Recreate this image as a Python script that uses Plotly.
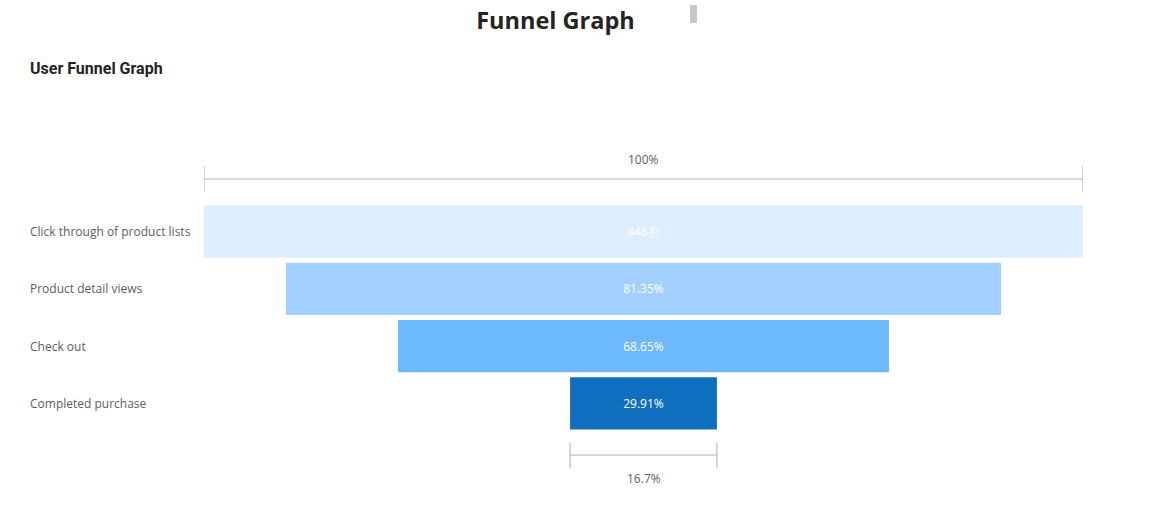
import plotly.graph_objects as go

# ---- data ----
stages = ["Click through of product lists", "Product detail views", "Check out", "Completed purchase"]
values = [446000, 362821, 249077, 74499]
bar_colors = ["#DDEEFF", "#A3D1FF", "#6DB9FF", "#106EBE"]

W, H = 1153, 524
ML, MR, MT, MB = 204, 70, 203, 92
PW = W - ML - MR

# labels: first as thousands (천), others percent of previous
texts = [f"{round(values[0]/1000)}천"] + [
    f"{values[i]/values[i-1]*100:.2f}%" for i in range(1, len(values))
]
bases = [-v / 2 for v in values]

fig = go.Figure()
fig.add_trace(go.Bar(
    y=stages, x=values, base=bases, orientation="h",
    marker=dict(color=bar_colors, line=dict(width=0)),
    text=texts, textposition="inside", insidetextanchor="middle",
    textfont=dict(color="white", size=12, family="Open Sans"),
    hoverinfo="skip", showlegend=False,
))

vmax = values[0]
vmin = values[-1]

def px(pix):
    return (pix - ML) / PW

def py(pix):
    # convert pixel y to paper coordinate
    return (H - MB - pix) / (H - MT - MB)

# category labels on the left, left aligned
for s in stages:
    fig.add_annotation(x=px(28), xref="paper", y=s, yref="y",
                       text=s, showarrow=False, xanchor="left", yanchor="middle",
                       font=dict(size=12, color="#605E5C", family="Open Sans"))

line_col = "#B3B0AD"
# top bracket (100%)
fig.add_shape(type="line", xref="x", yref="paper", x0=-vmax/2, x1=vmax/2, y0=py(179), y1=py(179),
              line=dict(color=line_col, width=1))
for xv in (-vmax/2, vmax/2):
    fig.add_shape(type="line", xref="x", yref="paper", x0=xv, x1=xv, y0=py(166), y1=py(192),
                  line=dict(color=line_col, width=1))
fig.add_annotation(x=0, xref="x", y=py(159), yref="paper", text=f"{values[0]/values[0]*100:.0f}%",
                   showarrow=False, yanchor="middle",
                   font=dict(size=12, color="#605E5C", family="Open Sans"))
# bottom bracket
fig.add_shape(type="line", xref="x", yref="paper", x0=-vmin/2, x1=vmin/2, y0=py(455), y1=py(455),
              line=dict(color=line_col, width=1))
for xv in (-vmin/2, vmin/2):
    fig.add_shape(type="line", xref="x", yref="paper", x0=xv, x1=xv, y0=py(443), y1=py(468),
                  line=dict(color=line_col, width=1))
fig.add_annotation(x=0, xref="x", y=py(478), yref="paper", text=f"{vmin/vmax*100:.1f}%",
                   showarrow=False, yanchor="middle",
                   font=dict(size=12, color="#605E5C", family="Open Sans"))

# subtitle
fig.add_annotation(x=px(28), xref="paper", y=py(68), yref="paper", text="<b>User Funnel Graph</b>",
                   showarrow=False, xanchor="left", yanchor="middle",
                   font=dict(size=16, color="#252423", family="Roboto"))
# decorative grey marker next to title
fig.add_shape(type="rect", xref="paper", yref="paper",
              x0=px(690), x1=px(697), y0=py(23), y1=py(5), fillcolor="#C8C8C8", line=dict(width=0))

fig.update_layout(
    width=W, height=H,
    margin=dict(l=ML, r=MR, t=MT, b=MB),
    paper_bgcolor="white", plot_bgcolor="white",
    title=dict(text="<b>Funnel Graph</b>", x=555.5 / W, xanchor="center", xref="container",
               y=1 - 21 / H, yref="container", yanchor="middle",
               font=dict(size=23.5, color="#252423", family="Open Sans")),
    bargap=0.09,
    xaxis=dict(visible=False, range=[-vmax/2, vmax/2], fixedrange=True),
    yaxis=dict(visible=False, autorange="reversed", categoryorder="array", categoryarray=stages),
)

fig.write_html("out.html")
